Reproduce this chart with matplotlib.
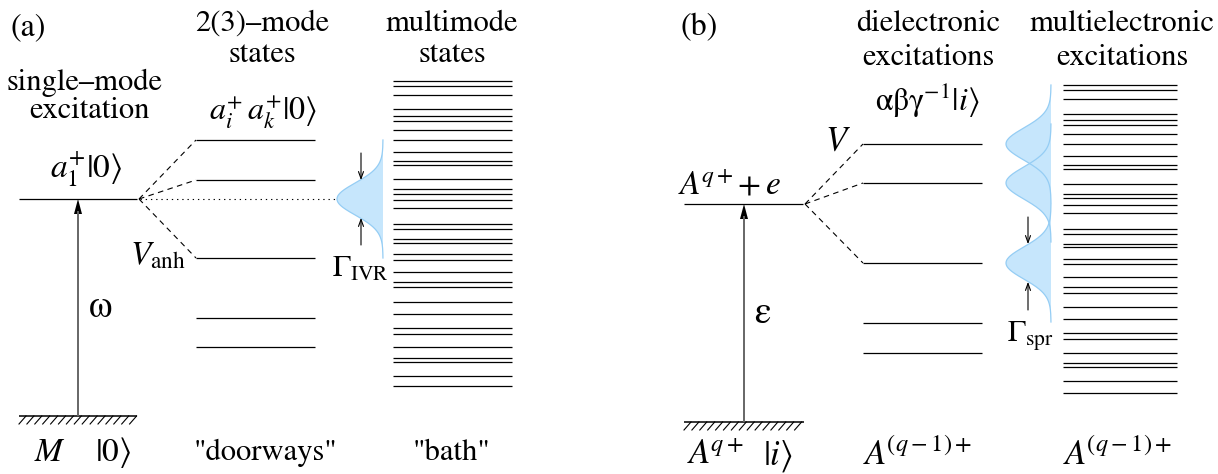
import numpy as np
import matplotlib
matplotlib.use("Agg")
import matplotlib.pyplot as plt

plt.rcParams['font.family'] = ['STIXGeneral', 'DejaVu Serif']
plt.rcParams['mathtext.fontset'] = 'stix'

# ---- data (pixel positions of energy levels, y downward) ----
bath_a = [81, 86, 95, 109, 116, 121, 130, 140, 152, 161, 165, 179, 189, 194, 200, 208,
          224, 229, 239, 243, 254, 260, 272, 282, 287, 302, 314, 328, 334, 347, 358, 362, 376, 386]
bath_b = [85, 90, 99, 114, 120, 125, 134, 144, 156, 165, 169, 184, 194, 198, 205, 213,
          229, 234, 244, 247, 259, 264, 277, 287, 293, 307, 319, 333, 339, 353, 363, 367, 381, 393]
doors_a = [140, 180, 258, 318, 347]
doors_b = [144, 183, 263, 323, 353]
coupled = 3                      # number of doorway levels coupled to the initial level
level_a, ground_a = 199, 416
level_b, ground_b = 204, 422
gauss_a_centers = [199]
gauss_b_centers = [144, 183, 263]
sigma = 16.0

W, H = 1218, 474
fig = plt.figure(figsize=(W / 100, H / 100), dpi=100)
ax = fig.add_axes([0, 0, 1, 1])
ax.set_xlim(0, W)
ax.set_ylim(H, 0)
ax.axis('off')

LW = 0.9
blue_fill = '#c6e6fc'
blue_edge = '#95cdf4'


def hline(x0, x1, y, **kw):
    ax.plot([x0, x1], [y, y], color=kw.pop('color', 'black'), lw=kw.pop('lw', LW),
            solid_capstyle='butt', **kw)


def ground(x0, x1, y):
    hline(x0, x1, y, lw=1.1)
    xs = np.arange(x0 + 7, x1 + 1, 7.9)
    for xi in xs:
        ax.plot([xi, xi - 7], [y, y + 8], color='black', lw=0.8)


def main_arrow(x, y0, y1):
    ax.plot([x, x], [y0, y1 + 12], color='#666666', lw=1.4, solid_capstyle='butt')
    ax.fill([x, x - 4, x + 4], [y1, y1 + 15, y1 + 15], color='black', lw=0)


def small_arrow(x, y_from, y_to):
    ax.annotate('', xy=(x, y_to), xytext=(x, y_from),
                arrowprops=dict(arrowstyle='->,head_length=0.5,head_width=0.18',
                                color='black', lw=0.8, shrinkA=0, shrinkB=0))


def gaussians(centers, base, amp):
    curves = []
    for c in centers:
        yy = np.linspace(c - 59, c + 59, 300)
        xx = base - amp * np.exp(-(yy - c) ** 2 / (2 * sigma ** 2))
        curves.append((xx, yy))
    for xx, yy in curves:
        ax.fill(np.r_[xx, base, base], np.r_[yy, yy[-1], yy[0]], color=blue_fill, lw=0)
    for xx, yy in curves:
        ax.plot(xx, yy, color=blue_edge, lw=0.9)


# ================= panel (a) =================
hline(19, 137, level_a)
ground(19, 137, ground_a)
main_arrow(78, ground_a, level_a)
for y in doors_a:
    hline(196, 315, y)
for y in doors_a[:coupled]:
    ax.plot([139, 196], [level_a, y], color='black', lw=0.8, ls=(0, (5, 4)))
ax.plot([140, 337], [level_a, level_a], color='black', lw=0.8, ls=(0, (1.2, 3.5)))
gaussians(gauss_a_centers, 383, 46)
for y in bath_a:
    hline(393, 512, y)
hw = sigma * np.sqrt(2 * np.log(2))
small_arrow(361, 153, gauss_a_centers[0] - hw)
small_arrow(361, 245, gauss_a_centers[0] + hw)

tk = dict(ha='center', va='center', color='black')
TS = 22
ax.text(11, 28, '(a)', ha='left', va='center', fontsize=23)
ax.text(262, 24, '2(3)–mode', fontsize=TS, **tk)
ax.text(262, 55, 'states', fontsize=TS, **tk)
ax.text(452, 24, 'multimode', fontsize=TS, **tk)
ax.text(452, 55, 'states', fontsize=TS, **tk)
ax.text(85, 83, 'single–mode', fontsize=TS, **tk)
ax.text(90, 111, 'excitation', fontsize=TS, **tk)
ax.text(86, 170, r'$a_1^{+}|0\rangle$', fontsize=24, **tk)
ax.text(263, 112, r'$a_i^{+}\,a_k^{+}|0\rangle$', fontsize=23, **tk)
ax.text(158, 256, r'$V_{\mathrm{anh}}$', fontsize=24, **tk)
ax.text(101, 308, 'ω', fontsize=27, **tk)
ax.text(360, 270, r'$\Gamma_{\mathrm{IVR}}$', fontsize=22, **tk)
ax.text(50, 453, r'$M$', fontsize=24, **tk)
ax.text(113, 453, r'$|0\rangle$', fontsize=24, **tk)
ax.text(266, 453, '"doorways"', fontsize=TS, **tk)
ax.text(452, 453, '"bath"', fontsize=TS, **tk)

# ================= panel (b) =================
hline(684, 803, level_b)
ground(684, 804, ground_b)
main_arrow(744, ground_b, level_b)
for y in doors_b:
    hline(863, 982, y)
for y in doors_b[:coupled]:
    ax.plot([805, 863], [level_b, y], color='black', lw=0.8, ls=(0, (5, 4)))
gaussians(gauss_b_centers, 1051, 45)
for y in bath_b:
    hline(1063, 1177, y)
small_arrow(1028, 217, gauss_b_centers[2] - hw)
small_arrow(1028, 310, gauss_b_centers[2] + hw)

ax.text(680, 28, '(b)', ha='left', va='center', fontsize=23)
ax.text(928, 24, 'dielectronic', fontsize=TS, **tk)
ax.text(928, 58, 'excitations', fontsize=TS, **tk)
ax.text(1122, 24, 'multielectronic', fontsize=TS, **tk)
ax.text(1122, 58, 'excitations', fontsize=TS, **tk)
ax.text(927, 100, r'$\mathrm{\alpha\beta\gamma^{-1}}|i\rangle$', fontsize=23, **tk)
ax.text(838, 143, r'$V$', fontsize=25, **tk)
ax.text(730, 186, r'$A^{\!q+}\!+e$', fontsize=24, **tk)
ax.text(762, 314, 'ε', fontsize=27, **tk)
ax.text(1030, 336, r'$\Gamma_{\mathrm{spr}}$', fontsize=22, **tk)
ax.text(716, 456, r'$A^{\!q+}$', fontsize=25, **tk)
ax.text(778, 456, r'$|i\rangle$', fontsize=25, **tk)
ax.text(918, 456, r'$A^{\!(q-1)+}$', fontsize=25, **tk)
ax.text(1118, 456, r'$A^{\!(q-1)+}$', fontsize=25, **tk)

fig.savefig('out.png', dpi=100)
